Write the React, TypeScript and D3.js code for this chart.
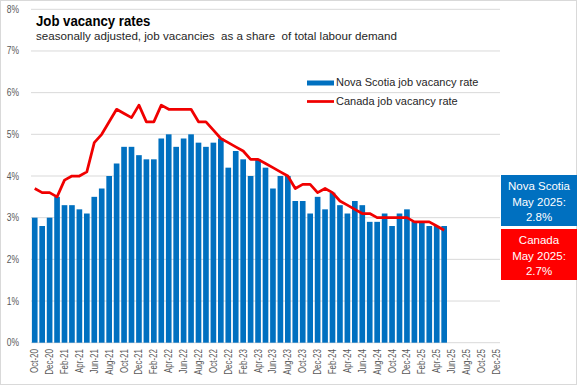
import React from 'react';
import * as d3 from 'd3';

// monthly categories on the x axis (Oct-20 .. Dec-25)
const months = [
  'Oct-20', 'Nov-20', 'Dec-20',
  'Jan-21', 'Feb-21', 'Mar-21', 'Apr-21', 'May-21', 'Jun-21', 'Jul-21', 'Aug-21', 'Sep-21', 'Oct-21', 'Nov-21', 'Dec-21',
  'Jan-22', 'Feb-22', 'Mar-22', 'Apr-22', 'May-22', 'Jun-22', 'Jul-22', 'Aug-22', 'Sep-22', 'Oct-22', 'Nov-22', 'Dec-22',
  'Jan-23', 'Feb-23', 'Mar-23', 'Apr-23', 'May-23', 'Jun-23', 'Jul-23', 'Aug-23', 'Sep-23', 'Oct-23', 'Nov-23', 'Dec-23',
  'Jan-24', 'Feb-24', 'Mar-24', 'Apr-24', 'May-24', 'Jun-24', 'Jul-24', 'Aug-24', 'Sep-24', 'Oct-24', 'Nov-24', 'Dec-24',
  'Jan-25', 'Feb-25', 'Mar-25', 'Apr-25', 'May-25', 'Jun-25', 'Jul-25', 'Aug-25', 'Sep-25', 'Oct-25', 'Nov-25', 'Dec-25',
];

// job vacancy rate, %, Oct-20 .. May-25
const novaScotia = [
  3.0, 2.8, 3.0, 3.5, 3.3, 3.3, 3.2, 3.1, 3.5, 3.7, 4.0, 4.3, 4.7, 4.7, 4.5, 4.4,
  4.4, 4.9, 5.0, 4.7, 4.9, 5.0, 4.8, 4.7, 4.8, 4.9, 4.2, 4.6, 4.4, 4.0, 4.4, 4.2,
  3.7, 4.0, 4.0, 3.4, 3.4, 3.1, 3.5, 3.2, 3.6, 3.3, 3.1, 3.4, 3.3, 2.9, 2.9, 3.1,
  2.8, 3.1, 3.2, 2.9, 2.9, 2.8, 2.8, 2.8,
];
const canada = [
  3.7, 3.6, 3.6, 3.5, 3.9, 4.0, 4.0, 4.1, 4.8, 5.0, 5.3, 5.6, 5.5, 5.4, 5.7, 5.3,
  5.3, 5.7, 5.6, 5.6, 5.6, 5.6, 5.3, 5.3, 5.1, 4.9, 4.8, 4.7, 4.6, 4.4, 4.4, 4.3,
  4.2, 4.1, 4.0, 3.7, 3.8, 3.8, 3.6, 3.7, 3.6, 3.4, 3.3, 3.2, 3.1, 3.1, 3.0, 3.0,
  3.0, 3.0, 3.0, 2.9, 2.9, 2.9, 2.8, 2.7,
];

const yTicks = [0, 1, 2, 3, 4, 5, 6, 7, 8];

const BLUE = '#0070c0';
const RED = '#f00000';
const GRID = '#d9d9d9';
const SANS = '"Liberation Sans", Arial, sans-serif';

export default function App() {
  const width = 577;
  const height = 385;
  const plot = { left: 31, right: 500, top: 9.3, bottom: 342.7 };

  const x = d3
    .scaleBand<string>()
    .domain(months)
    .range([plot.left, plot.right])
    .paddingInner(0.24)
    .paddingOuter(0.12);

  const y = d3.scaleLinear().domain([0, 8]).range([plot.bottom, plot.top]);

  const cx = (i: number) => (x(months[i]) as number) + x.bandwidth() / 2;

  const line = d3
    .line<number>()
    .x((_, i) => cx(i))
    .y((d) => y(d));

  return (
    <svg
      width={width}
      height={height}
      style={{ position: 'absolute', left: 0, top: 0, background: '#fff' }}
    >
      <rect x={0.5} y={0.5} width={width - 1} height={height - 1} fill="#fff" stroke={GRID} />

      {/* gridlines + y labels */}
      {yTicks.map((t) => (
        <g key={t}>
          <line x1={plot.left} x2={plot.right} y1={y(t)} y2={y(t)} stroke={GRID} strokeWidth={1} />
          <text
            transform={`translate(19,${y(t)}) scale(0.85,1)`}
            dy="0.35em"
            textAnchor="end"
            fontFamily={SANS}
            fontSize={10}
            fill="#595959"
          >
            {t}%
          </text>
        </g>
      ))}

      {/* Nova Scotia bars */}
      {novaScotia.map((v, i) => (
        <rect
          key={months[i]}
          x={x(months[i])}
          y={y(v)}
          width={x.bandwidth()}
          height={y(0) - y(v)}
          fill={BLUE}
        />
      ))}

      {/* Canada line */}
      <path d={line(canada) ?? ''} fill="none" stroke={RED} strokeWidth={2.75} strokeLinejoin="round" />

      {/* x labels, every second month */}
      {months.map((m, i) =>
        i % 2 === 0 ? (
          <text
            key={m}
            transform={`translate(${cx(i)},349) rotate(-90) scale(0.8,1)`}
            dy="0.35em"
            textAnchor="end"
            fontFamily={SANS}
            fontSize={10}
            fill="#595959"
          >
            {m}
          </text>
        ) : null
      )}

      {/* title */}
      <text
        transform="translate(36,25.5) scale(0.88,1)"
        fontFamily={SANS}
        fontWeight="bold"
        fontSize={15}
        fill="#000"
      >
        Job vacancy rates
      </text>
      <text x={36} y={39.5} fontFamily={SANS} fontSize={11.6} fill="#262626" style={{ whiteSpace: 'pre' }}>
        seasonally adjusted, job vacancies  as a share  of total labour demand
      </text>

      {/* legend */}
      <rect x={307} y={80.5} width={27} height={5} fill={BLUE} />
      <text x={336} y={82.5} dy="0.35em" fontFamily={SANS} fontSize={11} fill="#262626">
        Nova Scotia job vacancy rate
      </text>
      <line x1={307} x2={334} y1={101.5} y2={101.5} stroke={RED} strokeWidth={2.75} />
      <text x={336} y={101.5} dy="0.35em" fontFamily={SANS} fontSize={11} fill="#262626">
        Canada job vacancy rate
      </text>

      {/* callout boxes */}
      <rect x={501} y={175} width={76} height={51} fill={BLUE} />
      <text textAnchor="middle" fontFamily={SANS} fontSize={11.5} fill="#fff">
        <tspan x={539} y={189.5}>Nova Scotia</tspan>
        <tspan x={539} y={205.5}>May 2025:</tspan>
        <tspan x={539} y={221}>{`${novaScotia[novaScotia.length - 1].toFixed(1)}%`}</tspan>
      </text>
      <rect x={501} y={229} width={76} height={51} fill="#ff0000" />
      <text textAnchor="middle" fontFamily={SANS} fontSize={11.5} fill="#fff">
        <tspan x={539} y={243.5}>Canada</tspan>
        <tspan x={539} y={259.5}>May 2025:</tspan>
        <tspan x={539} y={275}>{`${canada[canada.length - 1].toFixed(1)}%`}</tspan>
      </text>
    </svg>
  );
}
